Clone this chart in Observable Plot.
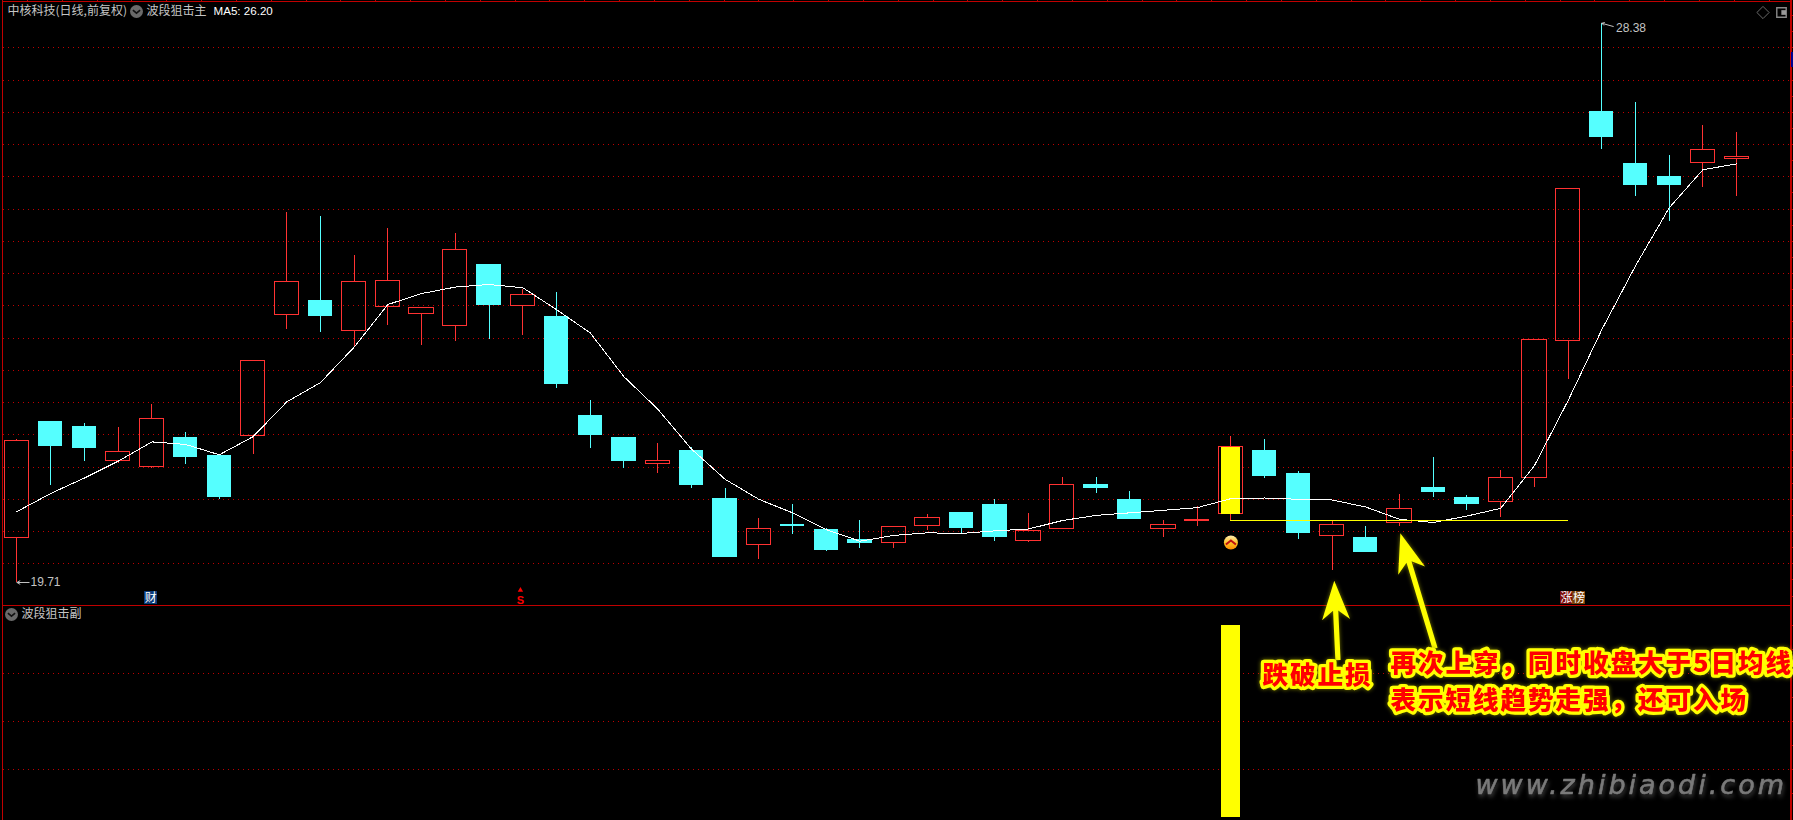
<!DOCTYPE html>
<html lang="zh">
<head>
<meta charset="utf-8">
<style>
html,body{margin:0;padding:0;background:#000;overflow:hidden}
svg{display:block}
</style>
<script src="https://cdn.jsdelivr.net/npm/d3@7"></script>
<script src="https://cdn.jsdelivr.net/npm/@observablehq/plot@0.6"></script>
</head>
<body>
<svg width="0" height="0" style="position:absolute">
  <defs>
    <linearGradient id="coin" x1="0" y1="0" x2="0" y2="1">
      <stop offset="0" stop-color="#ffeeb0"/>
      <stop offset="0.55" stop-color="#ffc020"/>
      <stop offset="1" stop-color="#ff8a00"/>
    </linearGradient>
  </defs>
</svg>
<div id="chart"></div>
<script>
// ---- data ----
const opens  = [20.40,22.21,22.13,21.60,21.50,21.96,21.68,21.98,23.86,24.08,23.61,23.98,23.88,23.69,24.64,24.00,23.83,22.30,21.96,21.55,21.76,21.01,20.29,20.61,20.53,20.38,20.33,20.59,20.80,20.92,20.36,20.54,21.23,21.00,20.54,20.67,20.77,21.76,21.40,20.43,20.41,20.64,21.18,21.03,20.96,21.33,23.46,27.01,26.21,26.00,26.21,26.27];
const highs  = [21.92,22.21,22.17,22.11,22.47,22.04,21.68,23.15,25.45,25.38,24.78,25.20,23.97,25.12,24.64,24.26,24.21,22.53,21.96,21.87,21.80,21.17,20.70,20.92,20.55,20.67,20.57,20.76,20.80,21.00,20.78,21.34,21.34,21.12,20.67,20.89,21.97,21.93,21.43,20.67,20.58,21.07,21.65,21.06,21.45,23.47,25.81,28.38,27.15,26.33,26.80,26.69];
const lows   = [19.71,21.22,21.59,21.56,21.48,21.54,21.00,21.70,23.64,23.59,23.36,23.70,23.39,23.44,23.47,23.54,22.71,21.78,21.47,21.40,21.16,20.09,20.06,20.46,20.19,20.23,20.23,20.52,20.47,20.35,20.33,20.54,21.09,20.68,20.40,20.58,20.67,21.33,20.37,19.90,20.18,20.58,21.03,20.82,20.72,21.19,22.86,26.43,25.70,25.31,25.84,25.70];
const closes = [21.91,21.82,21.78,21.74,22.25,21.65,21.03,23.15,24.37,23.84,24.37,24.39,23.97,24.87,24.01,24.17,22.78,21.99,21.59,21.60,21.22,20.10,20.54,20.58,20.21,20.32,20.57,20.71,20.54,20.41,20.51,21.22,21.16,20.69,20.60,20.68,21.81,21.36,20.47,20.60,20.18,20.85,21.11,20.92,21.33,23.47,25.81,26.61,25.87,25.87,26.42,26.31];
const ma5    = [20.81,21.09,21.33,21.59,21.89,21.85,21.69,21.97,22.51,22.81,23.36,24.02,24.19,24.29,24.33,24.28,23.94,23.58,22.90,22.40,21.78,21.31,21.00,20.79,20.53,20.35,20.44,20.48,20.47,20.51,20.54,20.67,20.75,20.79,20.83,20.87,21.01,21.02,21.00,20.99,20.88,20.69,20.64,20.74,20.86,21.52,22.53,23.63,24.62,25.52,26.11,26.20];
const priceGrid = [20,20.5,21,21.5,22,22.5,23,23.5,24,24.5,25,25.5,26,26.5,27,27.5,28];
const stopLevel = 20.67;           // yellow stop line
const signalDay = 36;              // day marked in yellow
const signalCoin = 20.33;          // coin under the signal day
const stopDays  = [36,46];         // stop line span
const subGrid   = [25,50,75];      // lower panel grid
const subSignal = 100;             // lower panel bar height
const subDivider = 110.3;          // top of the lower panel
const lowLabel  = {i:0,  p:19.71, text:"19.71"};
const highLabel = {i:47, p:28.38, text:"28.38"};
const arrows = [
  {i1:39.19, p1:18.50, i2:39.08, p2:19.73},
  {i1:42.07, p1:18.68, i2:41.04, p2:20.465}
];

// lower panel values share the frame with the price scale through this mapping
const subY = v => 16.071 + v * 0.02972;

const days = d3.range(opens.length);
const bars = days.map(i => ({i, o:opens[i], h:highs[i], l:lows[i], c:closes[i], up:closes[i] >= opens[i]}));
const ups = bars.filter(d => d.up), downs = bars.filter(d => !d.up);
const RED = "#ff3232", CYAN = "#55ffff", YELLOW = "#ffff00", FRAME = "#c00000", GRID = "#c00000", TXT = "#c4c4c4";
const CJK = "'Noto Sans CJK SC','Noto Sans',sans-serif";
const LAT = "'Liberation Sans',sans-serif";
const halfBody = 0.36;
const crisp = {shapeRendering:"crispEdges"};
const ML = 3; // frame anchor offset equals the left margin

const label = (text, dx, dy, o = {}) => Plot.text([text], {
  frameAnchor:"top-left", dx:dx - ML, dy, textAnchor:"start", lineAnchor:"middle",
  fontFamily:CJK, fontSize:12, fill:TXT, ...o
});
const filtered = css => ({render(index, scales, values, dim, ctx, next){
  const g = next(index, scales, values, dim, ctx);
  g.setAttribute("style", (g.getAttribute("style") || "") + ";" + css);
  return g;
}});
const callout = (text, dx, dy) => label(text, dx, dy, {
  fontSize:25.5, fontWeight:900, fill:"#ff0000", stroke:YELLOW, strokeWidth:6.5, strokeLinejoin:"round",
  ...filtered("letter-spacing:2px;filter:drop-shadow(0 0 2px rgba(150,150,0,.8))")
});
const chevronSym = {draw(ctx, size){
  const s = Math.sqrt(size / Math.PI);
  ctx.moveTo(-s, s * 0.4); ctx.lineTo(0, -s * 0.4); ctx.lineTo(s, s * 0.4);
}};
const chevronDown = {draw(ctx, size){
  const s = Math.sqrt(size / Math.PI);
  ctx.moveTo(-s, -s * 0.35); ctx.lineTo(0, s * 0.45); ctx.lineTo(s, -s * 0.35);
}};
const icon = (dx, dy, o) => Plot.dot([0], {frameAnchor:"top-left", dx:dx - ML, dy, ...o});
const menuIcon = (dx, dy) => [
  icon(dx, dy, {r:6.5, fill:"#6a6a6a"}),
  icon(dx, dy, {r:3.6, symbol:chevronDown, fill:"none", stroke:"#111", strokeWidth:1.6})
];

// yellow pointing arrows: positioned by the scales
function arrowMark(index, {x, y}) {
  const g = d3.create("svg:g").attr("style", "filter:drop-shadow(0 0 2px rgba(130,130,0,.9))");
  for (const a of arrows) {
    const tx = x(a.i1), ty = y(a.p1), hx = x(a.i2), hy = y(a.p2);
    const len = Math.hypot(hx - tx, hy - ty), ux = (hx - tx) / len, uy = (hy - ty) / len, nx = -uy, ny = ux;
    const at = (back, side) => [hx - ux * back + nx * side, hy - uy * back + ny * side];
    const poly = [at(0,0), at(39,14), at(30,2.6), [tx + nx*2.6, ty + ny*2.6], [tx - nx*2.6, ty - ny*2.6], at(30,-2.6), at(39,-14)];
    g.append("polygon").attr("points", poly.map(p => p.join(",")).join(" ")).attr("fill", YELLOW);
  }
  return g.node();
}

const chart = Plot.plot({
  width:1793, height:820,
  marginTop:0, marginBottom:0, marginLeft:ML, marginRight:3,
  x:{domain:[-0.4893, 52.6846], range:[0,1793], axis:null},
  y:{domain:[28.733, 16.02], range:[0,820], axis:null},
  style:{background:"#000", overflow:"hidden"},
  marks:[
    // grids
    Plot.ruleY(priceGrid, {stroke:GRID, strokeWidth:1, strokeDasharray:"1 4", ...crisp}),
    Plot.ruleY(subGrid.map(subY), {stroke:GRID, strokeWidth:1, strokeDasharray:"1 4", ...crisp}),
    // frame and panel divider
    Plot.ruleY([subY(subDivider)], {stroke:FRAME, x1:-0.43, x2:52.61, ...crisp}),
    Plot.ruleX([-0.43], {stroke:FRAME, ...crisp}),
    Plot.ruleX([52.625], {stroke:FRAME, strokeWidth:2, ...crisp}),
    Plot.ruleY([28.72], {stroke:FRAME, x1:-0.43, x2:52.61, ...crisp}),
    Plot.ruleX(d3.range(0.31, 52.2, 1.033), {y1:28.733, y2:28.72, stroke:FRAME, ...crisp}),
    Plot.ruleY(d3.range(19.5, 28.72, 0.25), {x1:52.62, x2:52.69, stroke:FRAME, ...crisp}),
    Plot.ruleY(d3.range(12.5, 110, 12.5).map(subY), {x1:52.62, x2:52.69, stroke:FRAME, ...crisp}),
    Plot.rect([0], {x1:52.64, x2:52.69, y1:27.92, y2:27.69, fill:"#000090", ...crisp}),

    // wicks
    Plot.ruleX(downs, {x:"i", y1:"h", y2:"l", stroke:CYAN, ...crisp}),
    Plot.ruleX(ups, {x:"i", y1:"c", y2:"h", stroke:RED, ...crisp}),
    Plot.ruleX(ups, {x:"i", y1:"o", y2:"l", stroke:RED, ...crisp}),
    // bodies
    Plot.rect(downs, {x1:d => d.i - halfBody, x2:d => d.i + halfBody, y1:"o", y2:"c", fill:CYAN, ...crisp}),
    Plot.rect(ups, {x1:d => d.i - halfBody, x2:d => d.i + halfBody, y1:"o", y2:"c", fill:"none", stroke:RED, ...crisp}),
    // signal day bar
    Plot.rect([bars[signalDay]], {x1:d => d.i - 0.28, x2:d => d.i + 0.28, y1:"o", y2:"c", fill:YELLOW, ...crisp}),
    // MA5
    Plot.line(days, {x:d => d, y:d => ma5[d], stroke:"#fff", strokeWidth:1, curve:"linear", ...crisp}),
    // stop line
    Plot.ruleY([stopLevel], {x1:stopDays[0], x2:stopDays[1], stroke:YELLOW, ...crisp}),

    // extreme labels
    Plot.arrow([lowLabel], {x1:d => d.i + 0.36, y1:"p", x2:"i", y2:"p", stroke:TXT, strokeWidth:1, headLength:5, bend:0}),
    Plot.text([lowLabel], {x:d => d.i + 0.4, y:"p", text:"text", textAnchor:"start", lineAnchor:"middle", fontFamily:LAT, fontSize:12, fill:TXT}),
    Plot.arrow([highLabel], {x1:d => d.i + 0.34, y1:d => d.p - 0.05, x2:"i", y2:"p", stroke:TXT, strokeWidth:1, headLength:4, bend:0}),
    Plot.text([highLabel], {x:d => d.i + 0.42, y:d => d.p - 0.08, text:"text", textAnchor:"start", lineAnchor:"middle", fontFamily:LAT, fontSize:12, fill:TXT}),

    // event tags
    Plot.rect([0], {x1:3.78, x2:4.16, y1:19.57, y2:19.37, fill:"#0a3a78", ...crisp}),
    Plot.text(["财"], {x:[3.97], y:[19.47], fontFamily:CJK, fontSize:12, fill:"#fff"}),
    Plot.dot([0], {x:[14.93], y:[19.59], symbol:"triangle", r:2, fill:"#ff0000"}),
    Plot.text(["S"], {x:[14.93], y:[19.43], fontFamily:LAT, fontWeight:700, fontSize:11, fill:"#ff0000"}),
    Plot.rect([0], {x1:45.77, x2:46.14, y1:19.57, y2:19.37, fill:"#7c0c0c", ...crisp}),
    Plot.rect([0], {x1:46.14, x2:46.51, y1:19.57, y2:19.37, fill:"#7c4008", ...crisp}),
    Plot.text(["涨"], {x:[45.955], y:[19.47], fontFamily:CJK, fontSize:12, fill:"#fff"}),
    Plot.text(["榜"], {x:[46.325], y:[19.47], fontFamily:CJK, fontSize:12, fill:"#fff"}),
    // signal coin
    Plot.dot([bars[signalDay]], {x:"i", y:[signalCoin], r:7, fill:"url(#coin)"}),
    Plot.dot([bars[signalDay]], {x:"i", y:[signalCoin], r:5, symbol:chevronSym, fill:"none", stroke:"#c01010", strokeWidth:2}),

    // lower panel signal
    Plot.rect([0], {x1:signalDay - 0.28, x2:signalDay + 0.28, y1:subY(0), y2:subY(subSignal), fill:YELLOW, ...crisp}),

    // header
    label("中核科技(日线,前复权)", 7, 11),
    ...menuIcon(136, 11),
    label("波段狙击主", 146, 11),
    label("MA5: 26.20", 213, 11, {fill:"#fff", fontFamily:LAT, fontSize:11.6}),
    ...menuIcon(11, 614),
    label("波段狙击副", 21, 614),
    icon(1762.5, 12, {r:5.5, symbol:"diamond2", fill:"none", stroke:"#6a6a6a", strokeWidth:1}),
    icon(1781, 12, {r:6, symbol:"square2", fill:"none", stroke:"#888", strokeWidth:1.4}),
    icon(1783.2, 12, {r:3, symbol:"square2", fill:"#999", stroke:"none"}),

    // annotations
    arrowMark,
    callout("跌破止损", 1262, 675),
    callout("再次上穿，同时收盘大于5日均线", 1390, 663),
    callout("表示短线趋势走强，还可入场", 1390, 700),
    label("www.zhibiaodi.com", 1475, 785, {
      fontFamily:"'DejaVu Sans',sans-serif", fontStyle:"italic", fontSize:27, fill:"#7a7a7a", stroke:"#7a7a7a", strokeWidth:0.6,
      ...filtered("letter-spacing:3px;filter:drop-shadow(1px 3px 2px #3a3a3a)")
    })
  ]
});
document.getElementById("chart").append(chart);
</script>
</body>
</html>
